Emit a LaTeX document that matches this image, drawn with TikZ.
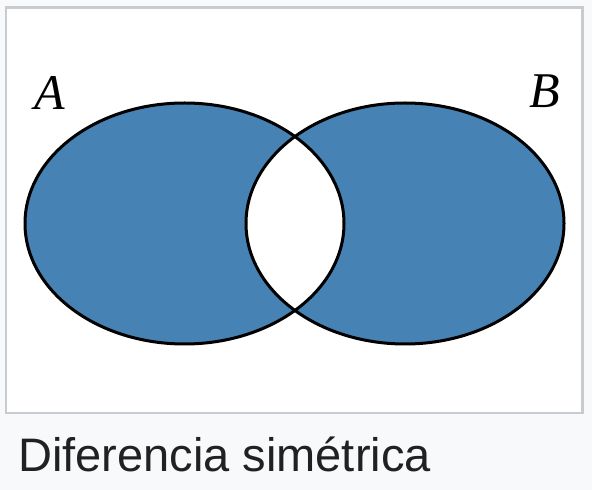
\documentclass[tikz,border=0pt]{standalone}
\usepackage{fontspec}
\setmainfont{Liberation Serif}
\newfontfamily\captionfont{Liberation Sans}
\usepackage{tikz}

\definecolor{azulconj}{HTML}{4682B4}
\definecolor{fondo}{HTML}{F8F9FA}
\definecolor{marco}{HTML}{C8CCD1}
\definecolor{texto}{HTML}{202122}

\begin{document}
\begin{tikzpicture}[x=1pt, y=1pt]
        % Fondo y marco
        \useasboundingbox (0,0) rectangle (592,490);
        \fill[fondo] (0,0) rectangle (592,490);
        \filldraw[fill=white, draw=marco, line width=2.3pt] (6.3,482.5) rectangle (582.5,77.3);
        
        % Diferencia simetrica: regla par-impar
        \fill[azulconj, even odd rule]
            (184.5,266.5) ellipse [x radius=159.5, y radius=120.5]
            (405,266.5) ellipse [x radius=159, y radius=120.5];
        
        % Contornos de A y B
        \draw[black, line width=3pt] (184.5,266.5) ellipse [x radius=159.5, y radius=120.5];
        \draw[black, line width=3pt] (405,266.5) ellipse [x radius=159, y radius=120.5];
        
        % Etiquetas
        \node[anchor=base, inner sep=0pt, font=\fontsize{50}{60}\selectfont\itshape] (etiqA) at (49.5,380) {A};
        \node[anchor=base, inner sep=0pt, font=\fontsize{50}{60}\selectfont\itshape] (etiqB) at (544.5,382) {B};
        
        % Pie de figura
        \node[anchor=base west, inner sep=0pt, text=texto, font=\captionfont\fontsize{47}{56}\selectfont] (pie) at (18,18) {Diferencia simétrica};
    \end{tikzpicture}
\end{document}
